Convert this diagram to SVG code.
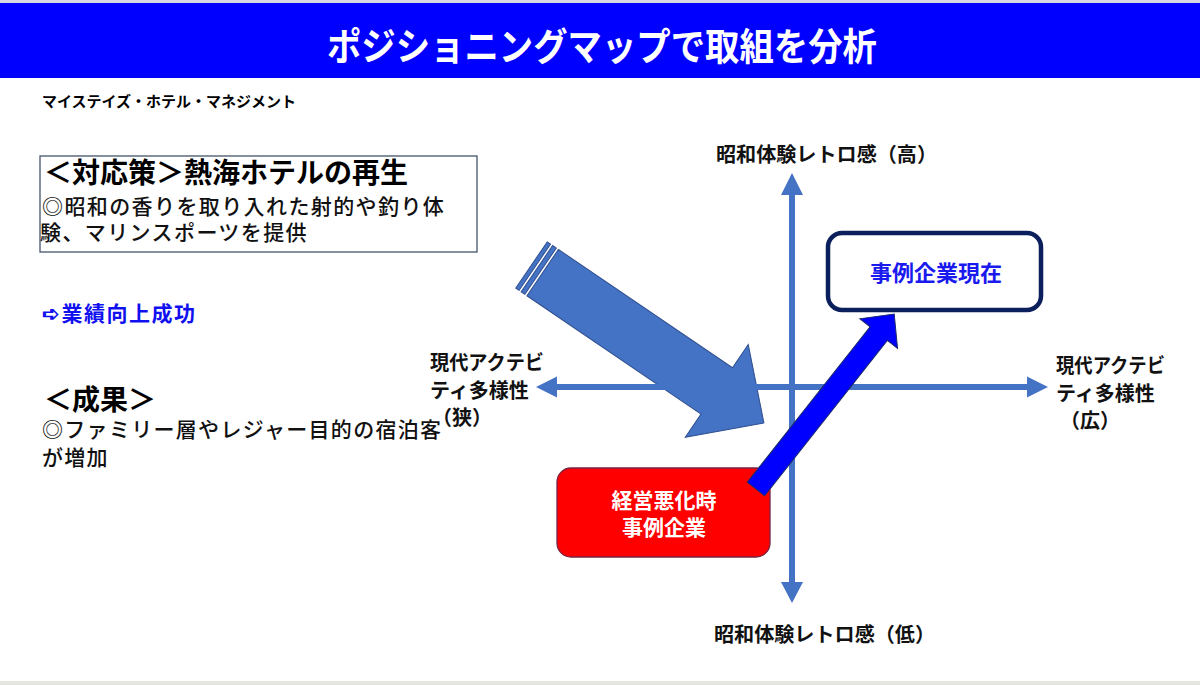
<svg xmlns="http://www.w3.org/2000/svg" width="1200" height="685" viewBox="0 0 1200 685">
  <defs>
    <style>
      text { font-family: "Liberation Sans", "Noto Sans CJK JP", sans-serif; }
      .b { font-weight: bold; }
      .axis { stroke: #4472C4; stroke-width: 6; fill: none; }
      .axhead { fill: #4472C4; }
      .lbl { font-size: 20px; font-weight: bold; fill: #111; }
      .body { font-size: 21px; font-weight: 500; fill: #111; }
      .head { font-size: 28px; font-weight: bold; fill: #000; }
    </style>
  </defs>

  <rect x="0" y="0" width="1200" height="685" fill="#ffffff"/>
  <rect x="0" y="0" width="1200" height="3" fill="#d4d6e2"/>

  <g id="title">
    <rect x="0" y="3" width="1200" height="75" fill="#0000FF"/>
    <text x="327" y="60" class="b" font-size="38" fill="#ffffff" textLength="550" lengthAdjust="spacingAndGlyphs">ポジショニングマップで取組を分析</text>
  </g>

  <g id="subtitle">
    <text x="42" y="107" class="b" font-size="15" fill="#000" textLength="254" lengthAdjust="spacingAndGlyphs">マイステイズ・ホテル・マネジメント</text>
  </g>

  <g id="measures">
    <rect x="40" y="156" width="437" height="96" fill="#ffffff" stroke="#44546A" stroke-width="1.3"/>
    <text x="44" y="183" class="head">＜対応策＞熱海ホテルの再生</text>
    <text x="42" y="214" class="body" letter-spacing="1.4">◎昭和の香りを取り入れた射的や釣り体</text>
    <text x="40" y="240" class="body" letter-spacing="1.4">験、マリンスポーツを提供</text>
  </g>

  <g id="success">
    <text x="42" y="321" class="b" font-size="21" fill="#1010F0" textLength="153" lengthAdjust="spacing">➪業績向上成功</text>
  </g>

  <g id="results">
    <text x="44" y="410" class="head">＜成果＞</text>
    <text x="42" y="437" class="body" letter-spacing="1.3">◎ファミリー層やレジャー目的の宿泊客</text>
    <text x="42" y="465" class="body" letter-spacing="1.3">が増加</text>
  </g>

  <g id="transition-arrow" transform="translate(531.5,265) rotate(34.2)" fill="#4472C4" stroke="#2F4F8F" stroke-width="1">
    <rect x="0" y="-28" width="4" height="56"/>
    <rect x="6.5" y="-28" width="4.5" height="56"/>
    <polygon points="13.5,-28 224,-28 224,-56 281,0 224,56 224,28 13.5,28"/>
  </g>

  <g id="connectors">
    <line class="axis" x1="792" y1="193" x2="792" y2="584"/>
    <polygon class="axhead" points="792,173 803,195 781,195"/>
    <polygon class="axhead" points="792,603 803,582 781,582"/>
    <line class="axis" x1="556" y1="387" x2="1028" y2="387"/>
    <polygon class="axhead" points="536,387 557,376.5 557,397.5"/>
    <polygon class="axhead" points="1048,387 1027,376.5 1027,397.5"/>
  </g>

  <g id="label-top">
    <text x="716" y="162" class="lbl" font-size="21" textLength="221" lengthAdjust="spacingAndGlyphs">昭和体験レトロ感（高）</text>
  </g>
  <g id="label-bottom">
    <text x="714" y="642" class="lbl" font-size="21" textLength="221" lengthAdjust="spacingAndGlyphs">昭和体験レトロ感（低）</text>
  </g>
  <g id="label-left">
    <text x="430" y="370" class="lbl" textLength="114" lengthAdjust="spacingAndGlyphs">現代アクテビ</text>
    <text x="430" y="398" class="lbl">ティ多様性</text>
    <text x="432" y="425" class="lbl">（狭）</text>
  </g>
  <g id="label-right">
    <text x="1056" y="373" class="lbl" textLength="109" lengthAdjust="spacingAndGlyphs">現代アクテビ</text>
    <text x="1056" y="401" class="lbl">ティ多様性</text>
    <text x="1060" y="428" class="lbl">（広）</text>
  </g>

  <g id="node-current">
    <rect x="828" y="233" width="213" height="77" rx="14" ry="14" fill="#ffffff" stroke="#0B1F5C" stroke-width="4.5"/>
    <text x="936" y="281" text-anchor="middle" class="b" font-size="22" fill="#1A1AEE">事例企業現在</text>
  </g>

  <g id="node-past">
    <rect x="557" y="468" width="213" height="89" rx="14" ry="14" fill="#FF0000" stroke="#7A2040" stroke-width="1.3"/>
    <text x="664" y="508" text-anchor="middle" class="b" font-size="21" fill="#ffffff">経営悪化時</text>
    <text x="664" y="535" text-anchor="middle" class="b" font-size="21" fill="#ffffff">事例企業</text>
  </g>

  <g id="improvement-arrow" transform="translate(756,489) rotate(-51.7)">
    <polygon points="0,-11 198,-11 198,-24 223,0 198,24 198,11 0,11" fill="#0000FF" stroke="#1A2A6A" stroke-width="1"/>
  </g>

  <rect x="0" y="681" width="1200" height="4" fill="#e6e6e0"/>
</svg>
